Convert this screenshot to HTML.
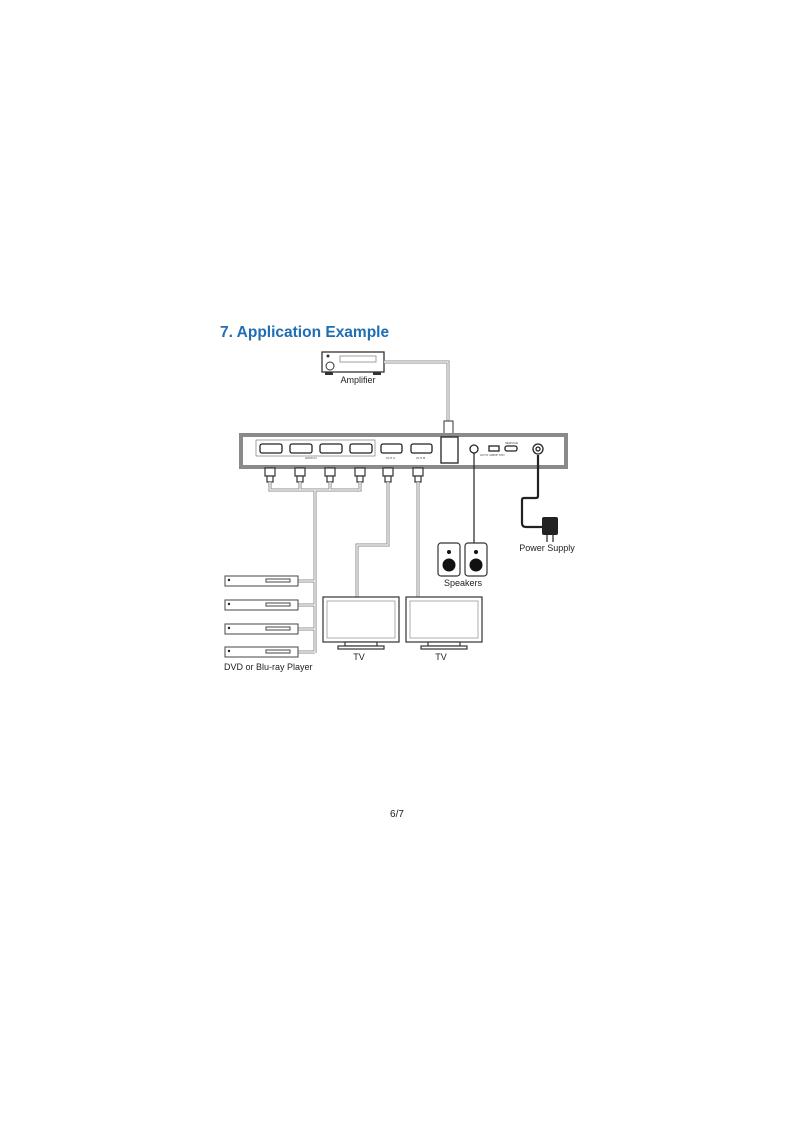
<!DOCTYPE html>
<html><head><meta charset="utf-8"><style>
html,body{margin:0;padding:0;background:#fff;width:800px;height:1131px;overflow:hidden}
svg{position:absolute;left:0;top:0}
text{font-family:"Liberation Sans",sans-serif}
</style></head><body>
<svg width="800" height="1131" viewBox="0 0 800 1131">
<text x="220" y="337" font-size="15.5" font-weight="bold" fill="#1f6db3">7. Application Example</text>

<!-- Amplifier -->
<rect x="322" y="352" width="62" height="20" fill="#fff" stroke="#333" stroke-width="1.3"/>
<rect x="325" y="372" width="8" height="3" fill="#333"/><rect x="373" y="372" width="8" height="3" fill="#333"/>
<circle cx="330" cy="366" r="4" fill="none" stroke="#333"/><circle cx="328" cy="356" r="1.5" fill="#333"/>
<rect x="340" y="356" width="36" height="6" fill="none" stroke="#888" stroke-width="0.8"/>
<text x="358" y="383" font-size="9" text-anchor="middle" fill="#222">Amplifier</text>
<path d="M384 362 H448 V425" fill="none" stroke="#888" stroke-width="3"/>
<path d="M384 362 H448 V425" fill="none" stroke="#fff" stroke-width="1.2"/>
<rect x="444" y="421" width="9" height="18" fill="#fff" stroke="#333"/>

<!-- Switch panel -->
<rect x="241" y="435" width="325" height="32" fill="#fff" stroke="#8a8a8a" stroke-width="4"/>
<rect x="256" y="440" width="119" height="16" fill="none" stroke="#666" stroke-width="0.6"/>
<g fill="#fff" stroke="#222" stroke-width="1.3">
<rect x="260" y="444" width="22" height="9" rx="2"/><rect x="290" y="444" width="22" height="9" rx="2"/>
<rect x="320" y="444" width="22" height="9" rx="2"/><rect x="350" y="444" width="22" height="9" rx="2"/>
<rect x="381" y="444" width="21" height="9" rx="2"/><rect x="411" y="444" width="21" height="9" rx="2"/>
<rect x="441" y="437" width="17" height="26"/>
<circle cx="474" cy="449" r="4"/><rect x="489" y="446" width="10" height="5"/>
<rect x="505" y="446" width="12" height="5" rx="2"/>
<circle cx="538" cy="449" r="5"/><circle cx="538" cy="449" r="2"/>
</g>
<g font-size="3" fill="#444"><text x="386" y="459">OUT A</text><text x="416" y="459">OUT B</text><text x="305" y="459">HDMI IN</text><text x="505" y="444">SERVICE</text><text x="480" y="456">AUTO 1080P STD</text></g>

<!-- HDMI plugs -->
<g fill="#fff" stroke="#333" stroke-width="1.2">
<rect x="265" y="468" width="10" height="8"/>
<rect x="295" y="468" width="10" height="8"/><rect x="325" y="468" width="10" height="8"/><rect x="355" y="468" width="10" height="8"/>
<rect x="383" y="468" width="10" height="8"/><rect x="413" y="468" width="10" height="8"/>
<rect x="267" y="476" width="6" height="6"/><rect x="297" y="476" width="6" height="6"/><rect x="327" y="476" width="6" height="6"/><rect x="357" y="476" width="6" height="6"/><rect x="385" y="476" width="6" height="6"/><rect x="415" y="476" width="6" height="6"/>
</g>
<g fill="none" stroke="#888" stroke-width="3">
<path d="M270 482 V490 H360 V482 M300 482 V490 M330 482 V490 M315 490 V653"/>
<path d="M388 482 V545 H357 V598"/><path d="M418 482 V598"/>
<path d="M298 581 H315 M298 605 H315 M298 629 H315 M298 652 H315"/>
</g>
<g fill="none" stroke="#fff" stroke-width="1.2">
<path d="M270 482 V490 H360 V482 M300 482 V490 M330 482 V490 M315 490 V653"/>
<path d="M388 482 V545 H357 V598"/><path d="M418 482 V598"/>
<path d="M298 581 H315 M298 605 H315 M298 629 H315 M298 652 H315"/>
</g>

<!-- players -->
<g fill="#fff" stroke="#444" stroke-width="1">
<rect x="225" y="576" width="73" height="10"/><rect x="225" y="600" width="73" height="10"/>
<rect x="225" y="624" width="73" height="10"/><rect x="225" y="647" width="73" height="10"/>
<rect x="266" y="579" width="24" height="3"/><rect x="266" y="603" width="24" height="3"/><rect x="266" y="627" width="24" height="3"/><rect x="266" y="650" width="24" height="3"/>
</g>
<g fill="#222"><circle cx="229" cy="580" r="1.2"/><circle cx="229" cy="604" r="1.2"/><circle cx="229" cy="628" r="1.2"/><circle cx="229" cy="651" r="1.2"/></g>
<text x="224" y="670" font-size="9" fill="#222">DVD or Blu-ray Player</text>

<!-- TVs -->
<g fill="#fff" stroke="#333" stroke-width="1.2">
<rect x="323" y="597" width="76" height="45"/><rect x="327" y="601" width="68" height="37" stroke="#999" stroke-width="0.8"/>
<rect x="345" y="642" width="32" height="4"/><rect x="338" y="646" width="46" height="3"/>
<rect x="406" y="597" width="76" height="45"/><rect x="410" y="601" width="68" height="37" stroke="#999" stroke-width="0.8"/>
<rect x="428" y="642" width="32" height="4"/><rect x="421" y="646" width="46" height="3"/>
</g>
<text x="359" y="660" font-size="9" text-anchor="middle" fill="#222">TV</text>
<text x="441" y="660" font-size="9" text-anchor="middle" fill="#222">TV</text>

<!-- audio -->
<path d="M474 453 V543" stroke="#222" stroke-width="1.2"/>
<g fill="#fff" stroke="#333" stroke-width="1.2">
<rect x="438" y="543" width="22" height="33" rx="3"/><rect x="465" y="543" width="22" height="33" rx="3"/>
</g>
<g fill="#111"><circle cx="449" cy="552" r="2"/><circle cx="476" cy="552" r="2"/><circle cx="449" cy="565" r="6.5"/><circle cx="476" cy="565" r="6.5"/></g>
<text x="463" y="586" font-size="9" text-anchor="middle" fill="#222">Speakers</text>

<!-- power -->
<path d="M538 455 V496 Q538 498 536 498 H524 Q522 498 522 500 V523 Q522 527 526 527 H542" fill="none" stroke="#222" stroke-width="2.2"/>
<rect x="542" y="517" width="16" height="18" rx="2" fill="#222"/>
<path d="M547 535 V542 M553 535 V542" stroke="#222" stroke-width="1.2"/>
<text x="547" y="551" font-size="9" text-anchor="middle" fill="#222">Power Supply</text>

<text x="397" y="817" font-size="10" text-anchor="middle" fill="#222">6/7</text>
</svg>
</body></html>
